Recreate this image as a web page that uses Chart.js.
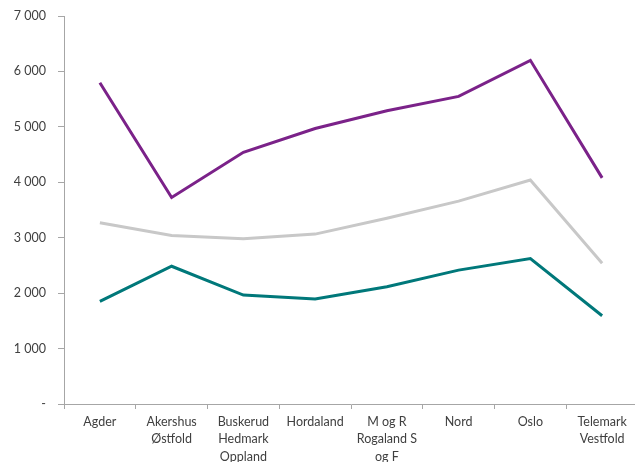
<!DOCTYPE html>
<html>
<head>
<meta charset="utf-8">
<script src="https://cdn.jsdelivr.net/npm/chart.js@4/dist/chart.umd.min.js"></script>
<style>
  html, body { margin: 0; padding: 0; background: #fff; overflow: hidden; }
  #wrap { width: 635px; height: 462px; overflow: hidden; }
</style>
</head>
<body>
<div id="wrap"><canvas id="c" width="638" height="462"></canvas></div>
<script>
// Regions along the x axis (multi-line labels as arrays)
const regions = [
  "Agder",
  ["Akershus", "Østfold"],
  ["Buskerud", "Hedmark", "Oppland"],
  "Hordaland",
  ["M og R", "Rogaland S", "og F"],
  "Nord",
  "Oslo",
  ["Telemark", "Vestfold"]
];

// Three series per region
const seriesTop    = [5797, 3725, 4540, 4970, 5290, 5550, 6200, 4080];
const seriesMiddle = [3270, 3040, 2980, 3065, 3350, 3660, 4040, 2540];
const seriesBottom = [1850, 2485, 1965, 1895, 2115, 2415, 2625, 1592];

// Y axis ticks
const yMax = 7000;
const yStep = 1000;

const fmt = v => v === 0 ? "-" : String(v).replace(/\B(?=(\d{3})+(?!\d))/g, " ");

const axisColor = "#a6a6a6";
const textColor = "#404040";
const family = "Lato, 'Open Sans', sans-serif";

new Chart(document.getElementById("c"), {
  type: "line",
  data: {
    labels: regions,
    datasets: [
      { data: seriesTop,    borderColor: "#7b2289" },
      { data: seriesMiddle, borderColor: "#c8c8c8" },
      { data: seriesBottom, borderColor: "#00787a" }
    ].map(d => Object.assign(d, {
      borderWidth: 3, pointRadius: 0, tension: 0, fill: false,
      borderJoinStyle: "miter", borderCapStyle: "butt"
    }))
  },
  options: {
    responsive: false,
    animation: false,
    devicePixelRatio: 1,
    layout: { padding: { top: 16, right: 0, bottom: 0, left: 0 } },
    plugins: { legend: { display: false }, tooltip: { enabled: false } },
    scales: {
      x: {
        offset: true,
        grid: {
          display: true, drawOnChartArea: false, drawTicks: true,
          tickLength: 5, offset: true, color: axisColor
        },
        border: { color: axisColor, width: 1 },
        ticks: {
          color: textColor, font: { family, size: 12.5, lineHeight: 1.4 },
          maxRotation: 0, minRotation: 0, autoSkip: false, padding: 4
        },
        afterFit: s => { s.height = 58; }
      },
      y: {
        min: 0, max: yMax,
        grid: {
          display: true, drawOnChartArea: false, drawTicks: true,
          tickLength: 6, color: axisColor
        },
        border: { color: axisColor, width: 1 },
        ticks: {
          stepSize: yStep, color: textColor, font: { family, size: 12.5, lineHeight: 1 },
          padding: 12, callback: v => fmt(v)
        },
        afterFit: s => { s.width = 64; s.paddingTop = 0; s.paddingBottom = 0; }
      }
    }
  }
});
</script>
</body>
</html>
